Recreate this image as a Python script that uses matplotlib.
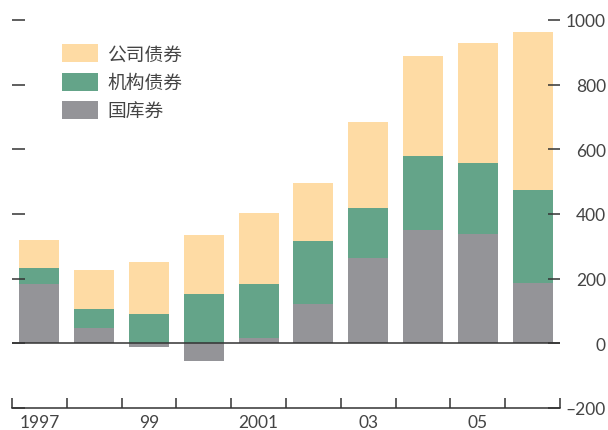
import matplotlib
matplotlib.use('Agg')
import matplotlib.pyplot as plt
import numpy as np

years = ['1997', '1998', '1999', '2000', '2001', '2002', '2003', '2004', '2005', '2006']
xlabels = ['1997', '', '99', '', '2001', '', '03', '', '05', '']
treasury = [183, 46, -12, -56, 15, 121, 263, 350, 337, 186]
agency = [49, 59, 90, 152, 168, 195, 155, 229, 220, 288]
corporate = [87, 121, 161, 182, 219, 179, 266, 310, 372, 489]
series_names = ['公司债券', '机构债券', '国库券']
yticks = [-200, 0, 200, 400, 600, 800, 1000]

c_corp = '#FEDBA4'
c_agency = '#64A489'
c_treas = '#949498'
ink = '#333333'
txt = '#444444'

plt.rcParams['font.family'] = ['Lato', 'Noto Sans CJK SC', 'DejaVu Sans']
plt.rcParams['axes.unicode_minus'] = True

fig = plt.figure(figsize=(6.08, 4.31), dpi=100)
ax = fig.add_axes([12 / 608, 22 / 431, 548 / 608, 388 / 431])

x = np.arange(len(years))
tre = np.array(treasury)
ag = np.array(agency)
co = np.array(corporate)
w = 0.73
b_treas = ax.bar(x, tre, width=w, color=c_treas, zorder=1)
base_ag = np.maximum(tre, 0)
b_ag = ax.bar(x, ag, width=w, bottom=base_ag, color=c_agency, zorder=1)
b_co = ax.bar(x, co, width=w, bottom=base_ag + ag, color=c_corp, zorder=1)

ax.axhline(0, color=ink, lw=1.1, zorder=3)

ax.set_xlim(-0.5, len(years) - 0.5)
ax.set_ylim(-200, 1000)

for s in ['top', 'left', 'right']:
    ax.spines[s].set_visible(False)
ax.spines['bottom'].set_color(ink)
ax.spines['bottom'].set_linewidth(1.1)

ax.set_xticks(x[::2])
ax.set_xticklabels(xlabels[::2])
ax.set_xticks(np.arange(-0.5, len(years)), minor=True)
ax.tick_params(axis='x', which='major', length=0, pad=4.5, labelsize=12.5, labelcolor=txt)
ax.tick_params(axis='x', which='minor', direction='in', length=7.5, width=1.1, color=ink)

ax.set_yticks(yticks)
ax.set_yticklabels([f'{v}'.replace('-', '\u2013') for v in yticks])
ax.tick_params(axis='y', which='major', left=True, right=True, labelleft=False, labelright=True,
               direction='in', length=9, width=1.1, color=ink, labelsize=12.5,
               labelcolor=txt, pad=33)
for t in ax.yaxis.get_major_ticks():
    t.label2.set_horizontalalignment('right')

leg = ax.legend([b_co, b_ag, b_treas], series_names, loc='upper left',
                bbox_to_anchor=(62 / 608, 1 - 45 / 431), bbox_transform=fig.transFigure,
                frameon=False, fontsize=13.5, handlelength=1.9, handleheight=1.1,
                handletextpad=0.5, labelspacing=0.55, borderpad=0, borderaxespad=0)
for t in leg.get_texts():
    t.set_color(txt)

fig.savefig('out.png', dpi=100)
